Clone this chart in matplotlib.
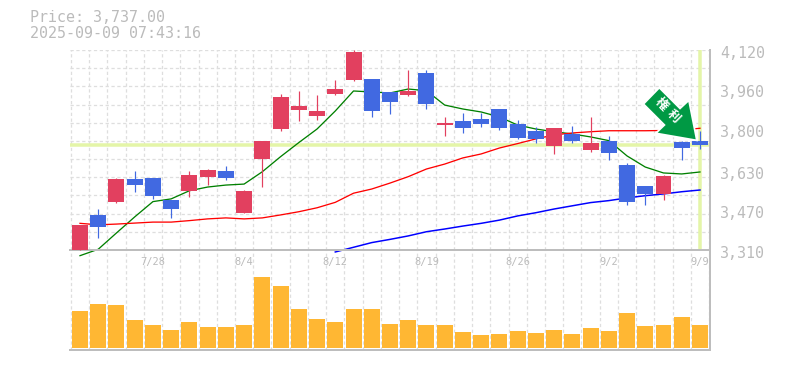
import numpy as np
import matplotlib
matplotlib.use("Agg")
import matplotlib.pyplot as plt
from matplotlib.patches import Polygon

# candles
opens = [3310, 3452, 3506, 3596, 3602, 3512, 3550, 3607, 3630, 3461, 3680, 3801,
         3878, 3853, 3942, 3998, 4003, 3950, 3939, 4027, 3816, 3832, 3841, 3881,
         3820, 3792, 3732, 3780, 3716, 3751, 3654, 3569, 3538, 3747, 3751]
closes = [3411, 3404, 3596, 3574, 3530, 3477, 3614, 3634, 3603, 3549, 3751, 3930,
          3893, 3873, 3961, 4112, 3874, 3911, 3954, 3902, 3824, 3805, 3820, 3805,
          3765, 3761, 3804, 3753, 3743, 3704, 3506, 3538, 3610, 3724, 3737]
highs = [3411, 3476, 3603, 3629, 3602, 3512, 3629, 3637, 3649, 3553, 3751, 3942,
         3954, 3938, 3998, 4120, 4003, 3950, 4039, 4039, 3849, 3865, 3864, 3881,
         3836, 3808, 3804, 3812, 3849, 3772, 3662, 3569, 3614, 3753, 3792]
lows = [3310, 3360, 3502, 3546, 3518, 3441, 3526, 3574, 3595, 3461, 3566, 3793,
        3834, 3838, 3938, 3994, 3850, 3862, 3935, 3882, 3772, 3785, 3809, 3797,
        3761, 3745, 3700, 3745, 3708, 3676, 3493, 3493, 3514, 3676, 3720]

# moving averages
ma_green = [3287, 3313, 3379, 3444, 3506, 3517, 3550, 3565, 3573, 3577, 3627, 3688,
            3745, 3800, 3873, 3954, 3950, 3946, 3962, 3955, 3897, 3881, 3869, 3849,
            3816, 3800, 3789, 3780, 3768, 3753, 3691, 3646, 3622, 3618, 3626]
ma_red = [3418, 3412, 3415, 3419, 3423, 3423, 3429, 3436, 3440, 3436, 3440, 3452,
          3465, 3481, 3503, 3540, 3557, 3581, 3607, 3638, 3658, 3683, 3699, 3723,
          3741, 3760, 3776, 3784, 3789, 3793, 3793, 3793, 3794, 3796, 3803]
ma_blue = [np.nan] * 14 + [3302, 3321, 3340, 3353, 3367, 3384, 3395, 3407, 3418, 3431,
                           3448, 3461, 3476, 3489, 3502, 3510, 3521, 3530, 3537, 3546, 3553]

volumes = [37, 44, 43, 28, 23, 18, 26, 21, 21, 23, 71, 62, 39, 29, 26, 39, 39, 24,
           28, 23, 23, 16, 13, 14, 17, 15, 18, 14, 20, 17, 35, 22, 23, 31, 23]

price_ticks = [4120, 3960, 3800, 3630, 3470, 3310]
price_labels = ["4,120", "3,960", "3,800", "3,630", "3,470", "3,310"]
date_pos = [4, 9, 14, 19, 24, 29, 34]
date_labels = ["7/28", "8/4", "8/12", "8/19", "8/26", "9/2", "9/9"]
last_price = 3737

W, H = 785, 370
RED = "#E2405F"
BLUE = "#4169E1"
ORANGE = "#FFB733"
YELLOW = "#E4F5A8"
GRID = "#DEDEDE"
FRAME = "#BDBDBD"
TEXT = "#BBBBBB"
MONO = "DejaVu Sans Mono"
PX = 0.72  # one pixel in points

n = len(opens)
x = np.arange(n)
fig = plt.figure(figsize=(W / 100, H / 100), dpi=100)
ax2 = fig.add_axes([70 / W, 1 - 350 / H, 640 / W, 100 / H])
ax = fig.add_axes([70 / W, 1 - 250 / H, 640 / W, 200 / H])
over = fig.add_axes([0, 0, 1, 1])
over.set_xlim(0, W)
over.set_ylim(H, 0)
over.axis("off")

xlim = (-0.548, 34.55)
for a in (ax, ax2):
    a.patch.set_visible(False)
    a.set_xlim(xlim)
    a.set_xticks(np.arange(n + 1) - 0.5)
    a.tick_params(length=0, labelbottom=False, labelleft=False)
    a.grid(axis="x", color=GRID, lw=1.3 * PX, ls=(0, (2.5, 2)), zorder=0)
    a.set_axisbelow(True)
    a.spines["left"].set_visible(False)
    a.spines["top"].set_visible(False)
    a.spines["right"].set_color(FRAME)
    a.spines["bottom"].set_color(FRAME)
    a.spines["right"].set_linewidth(2 * PX)
    a.spines["bottom"].set_linewidth(2 * PX)

ax.set_ylim(3310, 4120)
ax.set_yticks(np.linspace(3310, 4120, 12))
ax.grid(axis="y", color=GRID, lw=1.3 * PX, ls=(0, (2.5, 2)), zorder=0)

# current price cross
ax.axhline(last_price, color=YELLOW, lw=3.5 * PX, zorder=1)
ax.axvline(x[-1], color=YELLOW, lw=3.5 * PX, zorder=1)

ax.plot(x, ma_green, color="#008000", lw=1.3 * PX, clip_on=False, zorder=2)
ax.plot(x, ma_red, color="#FF0000", lw=1.3 * PX, clip_on=False, zorder=2)
ax.plot(x, ma_blue, color="#0000FF", lw=1.5 * PX, clip_on=False, zorder=2)

for i in range(n):
    col = RED if closes[i] > opens[i] else BLUE
    ax.vlines(x[i], lows[i], highs[i], color=col, lw=1.2 * PX, zorder=3, clip_on=False)
    ax.bar(x[i], abs(closes[i] - opens[i]), bottom=min(opens[i], closes[i]),
           width=0.877, color=col, zorder=4, clip_on=False)

ax2.set_ylim(-2, 98)
ax2.set_yticks([])
ax2.bar(x, volumes, width=0.877, color=ORANGE, zorder=3)

# axis labels
for val, lab in zip(price_ticks, price_labels):
    ax.annotate(lab, xy=(1, val), xycoords=("axes fraction", "data"), xytext=(7.2, -2.2),
                textcoords="offset points", ha="left", va="center",
                family=MONO, fontsize=10.8, color=TEXT)
for pos, lab in zip(date_pos, date_labels):
    ax.annotate(lab, xy=(pos, 3310), xycoords="data", xytext=(0, -8.6),
                textcoords="offset points", ha="center", va="center",
                family=MONO, fontsize=7.5, color=TEXT)

over.text(30, 18, "Price: 3,737.00", family=MONO, fontsize=10.8, color=TEXT, va="center")
over.text(30, 33, "2025-09-09 07:43:16", family=MONO, fontsize=10.8, color=TEXT, va="center")

# marker arrow, white halo drawn first so the green keeps its full size
arrow = [(659.3, 89), (680, 109.7), (688.3, 102), (695.7, 139.3), (657.7, 132.7),
         (665.7, 125), (644.7, 104)]
over.add_patch(Polygon(arrow, closed=True, facecolor="white", edgecolor="white",
                       lw=3.5 * PX, joinstyle="miter"))
over.add_patch(Polygon(arrow, closed=True, facecolor="#009944", edgecolor="none"))
for cx, cy, ch in [(661.7, 104, "権"), (673.3, 116, "利")]:
    over.text(cx, cy, ch, rotation=-45, rotation_mode="anchor", ha="center", va="center",
              color="white", fontsize=9, fontweight="bold", family="Noto Sans CJK JP")

fig.savefig("out.png", dpi=100, facecolor="white")
